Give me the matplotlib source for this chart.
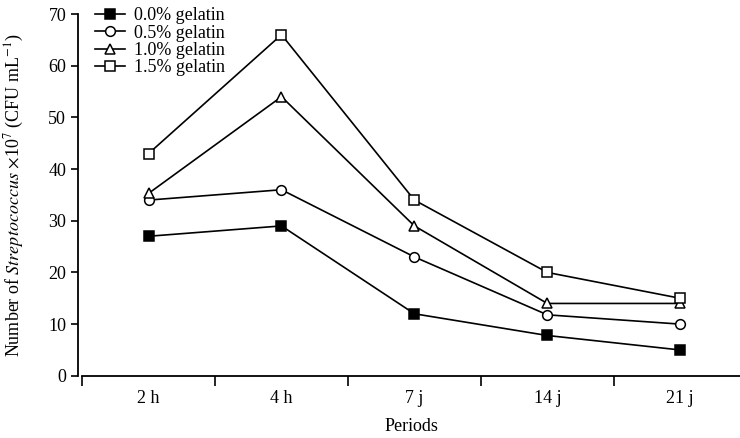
import matplotlib.pyplot as plt

periods = ['2 h', '4 h', '7 j', '14 j', '21 j']
gel_00 = [27, 29, 12, 7.8, 5]
gel_05 = [34, 36, 23, 11.8, 10]
gel_10 = [35.3, 54, 29, 14, 14]
gel_15 = [43, 66, 34, 20, 15]

plt.rcParams['font.family'] = 'Liberation Serif'
plt.rcParams['mathtext.fontset'] = 'stix'

fig = plt.figure(figsize=(7.4, 4.38), dpi=100)
ax = fig.add_axes([0.111, 0.142, 0.889, 0.826])

x = range(len(periods))
style = dict(color='black', lw=1.2, ms=7, mec='black', mew=1.1)
ax.plot(x, gel_00, marker='s', mfc='black', label='0.0% gelatin', **style)
ax.plot(x, gel_05, marker='o', mfc='white', label='0.5% gelatin', **style)
ax.plot(x, gel_10, marker='^', mfc='white', label='1.0% gelatin', **style)
ax.plot(x, gel_15, marker='s', mfc='white', label='1.5% gelatin', **style)

ax.set_xlim(-0.5, 4.45)
ax.set_ylim(0, 70)
ax.set_yticks(range(0, 71, 10))
ax.set_xticks([i - 0.5 for i in range(5)])
ax.set_xticklabels([])
ax.set_xticks(list(x), minor=True)
ax.set_xticklabels(periods, minor=True)
ax.tick_params(axis='x', which='minor', length=0, pad=10, labelsize=13)
ax.tick_params(axis='x', which='major', length=7, width=1.2)
ax.tick_params(axis='y', length=5, width=1.2, labelsize=13)

for s in ['top', 'right']:
    ax.spines[s].set_visible(False)
ax.spines['left'].set_linewidth(1.3)
ax.spines['bottom'].set_linewidth(1.3)
ax.spines['left'].set_position(('outward', 3))

ax.set_xlabel('Periods', fontsize=13, labelpad=8)
ax.set_ylabel('Number of $\\it{Streptococcus}$ $\\times$10$^{7}$ (CFU mL$^{-1}$)',
              fontsize=13, labelpad=16)

ax.legend(loc='upper left', bbox_to_anchor=(0.118, 1.0), bbox_transform=fig.transFigure,
          frameon=False, fontsize=13, handlelength=1.7, handletextpad=0.5,
          labelspacing=0.02, borderaxespad=0)

fig.savefig('out.png', dpi=100)
